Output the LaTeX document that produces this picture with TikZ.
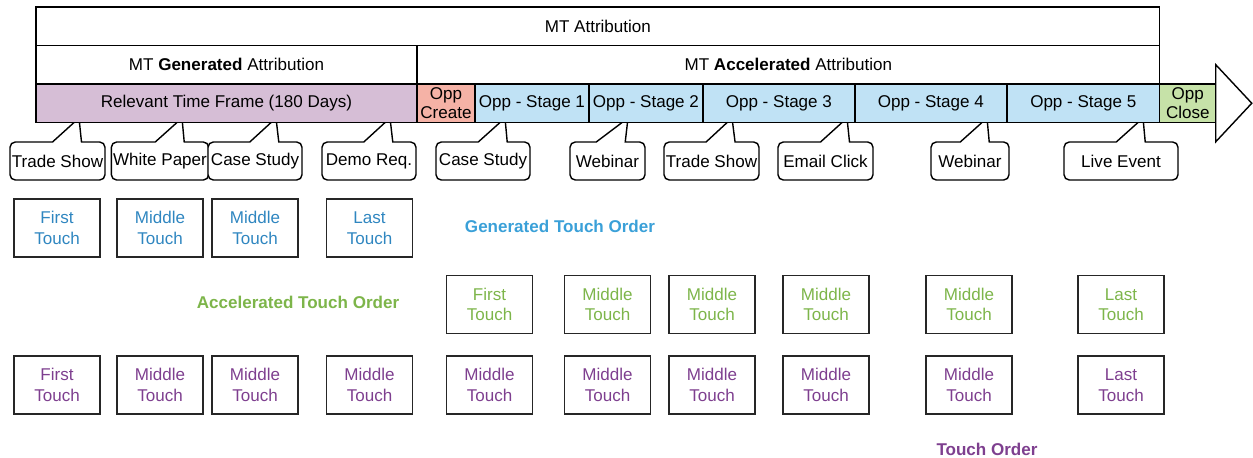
\documentclass[tikz,border=0pt]{standalone}
\usepackage{fontspec}
\setmainfont{Liberation Sans}
\usepackage{tikz}
\usetikzlibrary{shapes.callouts}
\definecolor{TimeColor}{RGB}{214,190,214}
\definecolor{CreateColor}{RGB}{245,178,166}
\definecolor{StageColor}{RGB}{192,226,245}
\definecolor{CloseColor}{RGB}{198,226,168}
\definecolor{GeneratedColor}{RGB}{47,134,192}
\definecolor{GeneratedTitle}{RGB}{58,160,216}
\definecolor{AcceleratedColor}{RGB}{125,181,74}
\definecolor{TouchColor}{RGB}{126,63,143}
\pgfdeclarelayer{background}
\pgfsetlayers{background,main}
\tikzset{
  every node/.style={font=\fontsize{9.7}{11.5}\selectfont, outer sep=0pt, inner sep=1pt},
  hdr/.style={draw, rectangle, line width=0.8pt, minimum height=0.77cm, anchor=north west, align=center},
  stage/.style={hdr, anchor=west, fill=StageColor},
  event/.style={draw, rectangle callout, rounded corners=3pt, fill=white, line width=0.8pt, minimum height=0.76cm, callout pointer width=0.58cm},
  touch/.style={draw=black!85, rectangle, line width=0.9pt, minimum width=1.72cm, minimum height=1.16cm, align=center, font=\fontsize{9.7}{11.7}\selectfont},
  order/.style={font=\fontsize{9.7}{11.5}\selectfont\bfseries}
}

\begin{document}
\begin{tikzpicture}[x=0.02cm,y=-0.02cm]
\useasboundingbox (0,0) rectangle (1253,457);

%% header rows
\node[hdr, minimum width=22.48cm] (mtall) at (36,7) {MT Attribution};
\node[hdr, minimum width=7.62cm] (mtgen) at (mtall.south west) {MT \textbf{Generated} Attribution};
\node[hdr, minimum width=14.86cm] (mtacc) at (mtgen.north east) {MT \textbf{Accelerated} Attribution};

%% time line
\node[hdr, fill=TimeColor, minimum width=7.62cm] (time) at (mtgen.south west) {Relevant Time Frame (180 Days)};
\node[hdr, anchor=west, fill=CreateColor, minimum width=1.16cm, inner sep=0pt, font=\fontsize{9.7}{11}\selectfont] (create) at (time.east) {Opp\\Create};
\node[stage, minimum width=2.28cm] (s1) at (create.east) {Opp - Stage 1};
\node[stage, minimum width=2.28cm] (s2) at (s1.east) {Opp - Stage 2};
\node[stage, minimum width=3.04cm] (s3) at (s2.east) {Opp - Stage 3};
\node[stage, minimum width=3.04cm] (s4) at (s3.east) {Opp - Stage 4};
\node[stage, minimum width=3.06cm] (s5) at (s4.east) {Opp - Stage 5};
\node[hdr, anchor=west, fill=CloseColor, minimum width=1.12cm, inner sep=0pt, font=\fontsize{9.7}{11}\selectfont] (close) at (s5.east) {Opp\\Close};
\draw[line width=0.8pt, fill=white] (close.east) ++(0,-38.5) -- ++(36,38.5) -- ++(-36,38.5) -- cycle;

%% touch events
\begin{pgfonlayer}{background}
\foreach \cx/\cw/\px/\txt [count=\i] in {57.5/1.9/79/Trade Show, 160/1.92/182/White Paper, 255/1.88/276/Case Study, 369/1.88/390/Demo Req., 483/1.88/505/Case Study, 607.5/1.5/628/Webinar, 711.5/1.9/732/Trade Show, 825.5/1.9/847/Email Click, 970/1.56/987/Webinar, 1121/2.28/1143/Live Event}{
\node[event, minimum width=\cw cm, callout absolute pointer={(\px,118)}] (ev\i) at (\cx,161) {\txt};
}
\end{pgfonlayer}

%% touch orders
\foreach \x/\t [count=\i] in {57/First,160/Middle,255/Middle,369.5/Last}
  \node[touch, text=GeneratedColor] (gen\i) at (\x,228) {\t\\Touch};
\foreach \x/\t [count=\i] in {489.5/First,607.5/Middle,712/Middle,826/Middle,969/Middle,1121/Last}
  \node[touch, text=AcceleratedColor] (acc\i) at (\x,304.5) {\t\\Touch};
\foreach \x/\t [count=\i] in {57/First,160/Middle,255/Middle,369.5/Middle,489.5/Middle,607.5/Middle,712/Middle,826/Middle,969/Middle,1121/Last}
  \node[touch, text=TouchColor] (all\i) at (\x,385) {\t\\Touch};

\node[order, text=GeneratedTitle] (genorder) at (560,226) {Generated Touch Order};
\node[order, text=AcceleratedColor] (accorder) at (298,302) {Accelerated Touch Order};
\node[order, text=TouchColor] (touchorder) at (987,449) {Touch Order};

\end{tikzpicture}
\end{document}
